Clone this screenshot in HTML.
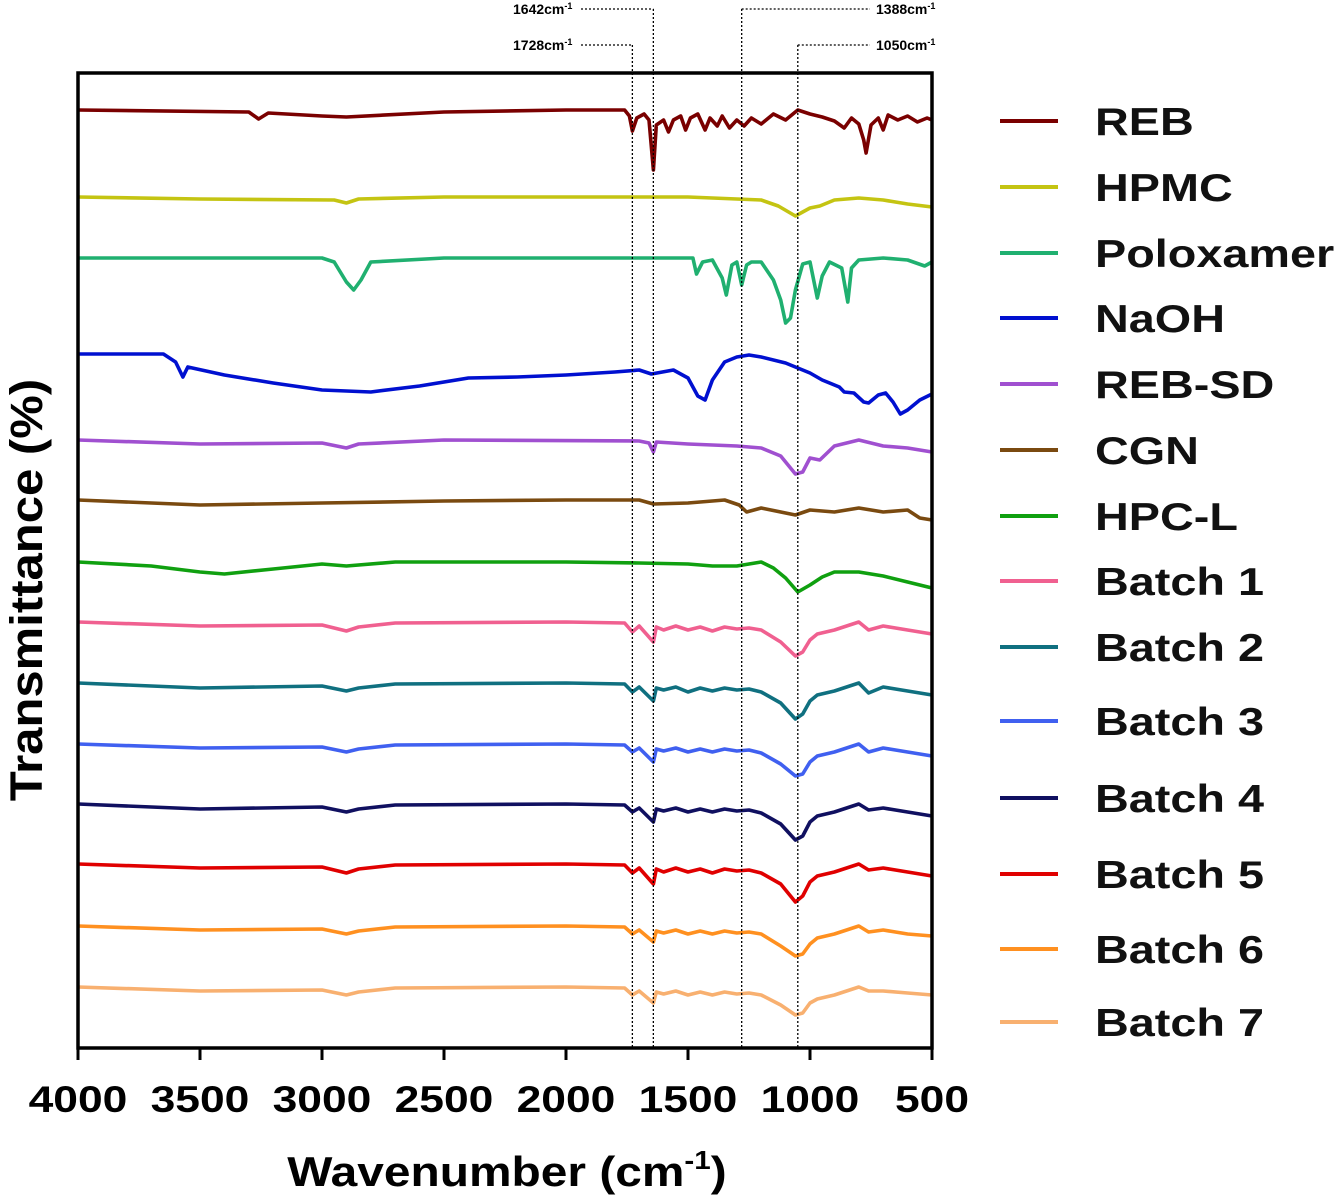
<!DOCTYPE html>
<html><head><meta charset="utf-8"><style>
body{margin:0;background:#fff}
svg{display:block;font-family:"Liberation Sans",sans-serif}
</style></head><body>
<svg id="c" width="1339" height="1202" viewBox="0 0 1339 1202"></svg>
<script>
const seriesNames=["REB","HPMC","Poloxamer","NaOH","REB-SD","CGN","HPC-L","Batch 1","Batch 2","Batch 3","Batch 4","Batch 5","Batch 6","Batch 7"];
const seriesColors=["#7a0000","#c4c412","#20b070","#0010d0","#a050d0","#7a4a10","#10a010","#f06090","#107080","#4060f0","#101060","#e00000","#ff9020","#f8b070"];
// stacking offsets (transmittance units, top of each trace)
const offsets=[938,851,790,694,608,548,486,426,365,304,244,184,122,61];
const xTicks=[4000,3500,3000,2500,2000,1500,1000,500];
const markers=[1728,1642,1280,1050];
const markerLabels=["1728cm","1642cm","1388cm","1050cm"];
const wnREB=[4000,3300,3260,3220,3000,2900,2500,2000,1760,1740,1728,1710,1680,1660,1642,1630,1600,1580,1560,1530,1510,1490,1460,1430,1410,1380,1360,1330,1300,1270,1240,1200,1150,1100,1050,1000,950,900,860,830,800,780,770,750,720,700,680,640,600,560,520,500];
const dREB=[0,2,9,3,6,7,2,0,0,6,21,8,4,10,60,15,10,22,10,6,20,8,4,20,8,16,6,18,10,16,8,14,4,10,0,4,7,11,18,8,14,30,43,15,8,20,5,10,6,12,8,10];
const wnHPMC=[4000,3500,2950,2900,2850,2500,1500,1300,1200,1130,1060,1000,960,900,800,700,600,500];
const dHPMC=[0,2,3,6,2,0,0,2,3,9,19,11,9,3,1,3,7,10];
const wnPOL=[4000,3000,2950,2900,2870,2840,2800,2500,2000,1480,1465,1440,1400,1360,1343,1320,1300,1280,1260,1240,1200,1150,1120,1100,1080,1060,1030,1000,970,950,920,870,845,830,800,700,600,530,500];
const dPOL=[0,0,4,24,32,22,4,0,0,0,16,4,2,20,37,7,4,27,7,4,4,22,42,65,60,32,6,4,40,18,4,10,44,10,2,0,2,8,4];
const wnNAOH=[4000,3650,3600,3570,3550,3400,3200,3000,2800,2600,2400,2200,2000,1800,1700,1650,1560,1500,1460,1430,1400,1350,1300,1250,1200,1100,1000,950,880,860,820,780,760,720,690,660,630,600,550,500];
const dNAOH=[0,0,8,23,13,21,29,36,38,32,24,23,21,18,16,20,16,24,42,46,26,8,3,1,3,9,19,26,33,38,39,48,49,41,39,48,60,56,46,40];
const wnSD=[4000,3500,3000,2900,2850,2500,1700,1660,1642,1630,1500,1300,1200,1120,1060,1030,1000,960,900,800,700,600,500];
const dSD=[0,4,3,8,4,0,1,3,12,2,4,6,8,16,34,32,18,20,6,0,6,8,12];
const wnCGN=[4000,3500,3000,2500,2000,1700,1642,1500,1350,1290,1260,1200,1100,1060,1000,900,800,700,600,550,500];
const dCGN=[0,5,3,1,0,0,4,3,0,5,12,8,13,15,10,12,8,12,10,18,20];
const wnHPC=[4000,3700,3500,3400,3200,3000,2900,2700,2000,1700,1500,1400,1300,1200,1150,1100,1050,1000,950,900,800,700,600,500];
const dHPC=[0,4,10,12,7,2,4,0,0,1,2,4,4,0,6,16,30,23,15,10,10,14,20,26];
const wnB=[4000,3500,3000,2900,2850,2700,2000,1760,1728,1700,1642,1630,1600,1550,1500,1450,1400,1350,1300,1250,1200,1120,1060,1030,1000,970,900,800,760,700,600,500];
const dB1=[0,4,3,9,5,1,0,1,10,4,20,5,8,4,8,5,9,5,7,6,8,20,34,30,18,12,8,0,8,4,8,12];
const dB2=[0,5,3,8,5,1,0,1,9,4,18,5,7,4,9,5,8,5,7,6,9,20,36,31,18,12,8,0,10,4,8,12];
const dB3=[0,4,3,8,5,1,0,1,8,4,18,5,7,4,8,5,8,5,7,6,9,20,32,30,18,12,8,0,8,4,8,12];
const dB4=[0,5,3,8,5,1,0,1,8,4,18,5,7,4,8,5,8,5,7,6,9,20,36,32,18,12,8,0,6,4,8,12];
const dB5=[0,4,3,9,5,1,0,1,9,4,20,5,8,4,8,5,9,5,7,6,9,20,38,32,18,12,8,0,6,4,8,12];
const dB6=[0,4,3,8,5,1,0,1,8,4,16,5,7,4,8,5,8,5,7,6,8,20,30,28,18,12,8,0,6,4,8,10];
const dB7=[0,4,3,8,5,1,0,1,8,4,16,5,7,4,8,5,8,5,7,6,8,18,28,26,16,12,8,0,4,4,6,8];
const seriesWn=[wnREB,wnHPMC,wnPOL,wnNAOH,wnSD,wnCGN,wnHPC,wnB,wnB,wnB,wnB,wnB,wnB,wnB];
const seriesDrop=[dREB,dHPMC,dPOL,dNAOH,dSD,dCGN,dHPC,dB1,dB2,dB3,dB4,dB5,dB6,dB7];

const L=78,R=932,T=73,B=1048;
const xs=w=>L+(4000-w)*(R-L)/3500;
const ys=v=>B-v*(B-T)/975;
const svg=document.getElementById('c');
const NS="http://www.w3.org/2000/svg";
function mk(tag,at,parent){const e=document.createElementNS(NS,tag);for(const k in at)e.setAttribute(k,at[k]);(parent||svg).appendChild(e);return e;}

seriesNames.forEach((n,i)=>{
  const wn=seriesWn[i],d=seriesDrop[i];
  const pts=wn.map((w,j)=>xs(w).toFixed(1)+","+ys(offsets[i]-d[j]).toFixed(1)).join(" ");
  const p=mk('polyline',{points:pts,fill:"none",stroke:seriesColors[i],"stroke-width":3.6,"stroke-linejoin":"round"});
  
  
});
const lblX=[577,577,940,940];
markers.forEach((m,i)=>{
  const x=xs(m);
  const g=mk('g',{});
  
  
  const topY=(i===1||i===2)?9:45;
  mk('line',{x1:x,y1:topY,x2:x,y2:B,stroke:"#000","stroke-width":1.3,"stroke-dasharray":"2,2"},g);
  let tx;
  if(i<2){tx=lblX[i];mk('line',{x1:tx+4,y1:topY,x2:x,y2:topY,stroke:"#000","stroke-width":1.3,"stroke-dasharray":"2,2"},g);}
  else{tx=lblX[i]-64;mk('line',{x1:x,y1:topY,x2:tx-6,y2:topY,stroke:"#000","stroke-width":1.3,"stroke-dasharray":"2,2"},g);}
  const t=mk('text',{x:i<2?tx-64:tx,y:topY+5,"font-size":14,"font-weight":"bold",fill:"#000"},g);
  t.textContent=markerLabels[i];
  const s=mk('tspan',{"font-size":9,dy:-5},t);s.textContent="-1";
});
mk('rect',{x:L,y:T,width:R-L,height:B-T,fill:"none",stroke:"#000","stroke-width":3.5,});
xTicks.forEach(w=>{
  const x=xs(w);
  mk('line',{x1:x,y1:B,x2:x,y2:B+12,stroke:"#000","stroke-width":3});
  const t=mk('text',{x:0,y:0,transform:`translate(${x},1112) scale(1.2,1)`,"text-anchor":"middle","font-size":37,"font-weight":"bold",fill:"#000"});
  
  
  t.textContent=w;
});
const xt=mk('text',{x:0,y:0,transform:"translate(507,1186) scale(1.14,1)","text-anchor":"middle","font-size":42,"font-weight":"bold",fill:"#000",});
xt.textContent="Wavenumber (cm";
const sup=mk('tspan',{"font-size":26,dy:-17},xt);sup.textContent="-1";
const cl=mk('tspan',{dy:17},xt);cl.textContent=")";
const yt=mk('text',{x:0,y:0,transform:"translate(42,590) rotate(-90) scale(1.09,1)","text-anchor":"middle","font-size":45,"font-weight":"bold",fill:"#000",});
yt.textContent="Transmittance (%)";
const legY=[121,187,253,318,384,450,516,581,647,721,798,874,949,1022];
seriesNames.forEach((n,i)=>{
  const g=mk('g',{});
  
  
  mk('line',{x1:1000,y1:legY[i],x2:1058,y2:legY[i],stroke:seriesColors[i],"stroke-width":4},g);
  const t=mk('text',{x:0,y:0,transform:`translate(1095,${legY[i]+14}) scale(1.2,1)`,"font-size":39,"font-weight":"bold",fill:"#111"},g);
  t.textContent=n;
});
</script>
</body></html>
